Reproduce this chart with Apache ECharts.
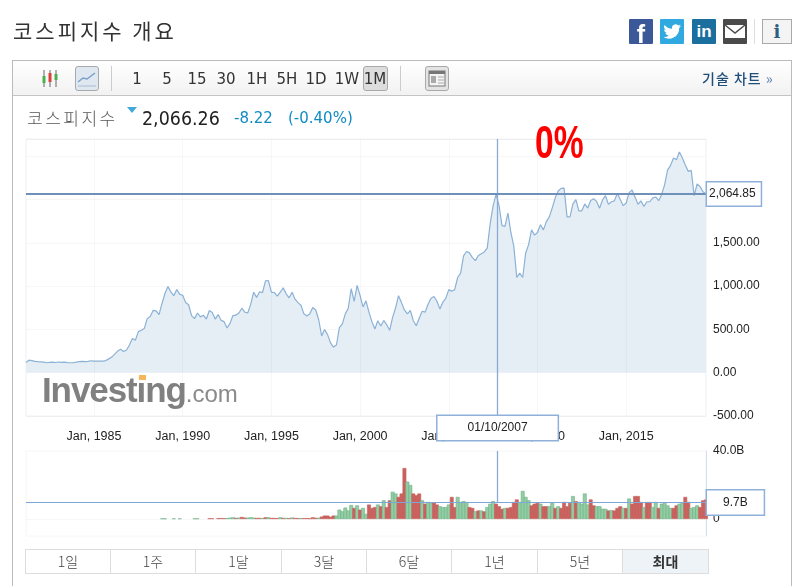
<!DOCTYPE html>
<html>
<head>
<meta charset="utf-8">
<script src="https://cdn.jsdelivr.net/npm/echarts@6/dist/echarts.min.js"></script>
<style>
html,body{margin:0;padding:0;background:#fff;width:805px;height:586px;overflow:hidden;font-family:"Liberation Sans",Arial,sans-serif;}
#main{position:absolute;left:0;top:0;width:805px;height:586px;}
.abs{position:absolute;white-space:nowrap;}
.kr{font-family:"Noto Sans CJK KR",sans-serif;}
.tf{top:69px;font-size:15px;line-height:20px;color:#333;text-align:center;width:30px;font-family:"DejaVu Sans",sans-serif;}
.btn{box-sizing:border-box;border:1px solid #a9a9a9;border-radius:3px;}
.soc{top:19px;width:24px;height:25px;color:#fff;text-align:center;border-radius:1px;}
.tab{top:549px;height:25px;box-sizing:border-box;border:1px solid #ddd;margin-right:-1px;text-align:center;line-height:23px;font-size:14px;color:#444;font-family:"Noto Sans CJK KR",sans-serif;font-weight:300;}
</style>
</head>
<body>
<!-- 바깥 틀, 툴바 -->
<div class="abs" style="left:12px;top:60px;width:778px;height:530px;border:1px solid #bbb;"></div>
<div class="abs" style="left:13px;top:61px;width:778px;height:34px;background:linear-gradient(#fff,#f2f2f2);border-bottom:1px solid #c4c4c4;"></div>

<div id="main"></div>

<div class="abs kr" style="left:13px;top:15px;font-size:21px;line-height:30px;letter-spacing:3px;color:#333;">코스피지수 개요</div>

<!-- 공유 아이콘 -->
<div class="abs soc" style="left:629px;background:#3b5998;font:bold 25px/30px 'Liberation Sans';">f</div>
<div class="abs soc" style="left:660px;background:#2fa9e0;">
<svg width="24" height="25" viewBox="0 0 24 25"><path fill="#fff" d="M21 7c-.7.3-1.4.5-2 .6.7-.5 1.300-1.200 1.600-2-.7.4-1.500.7-2.300.9a3.600 3.600 0 0 0-6.200 3.300C9 9.600 6.400 8.300 4.600 6c-1 1.700-.5 3.800 1.100 4.800-.6 0-1.100-.2-1.600-.4 0 1.700 1.200 3.200 2.900 3.600-.5.100-1.100.1-1.600 0 .5 1.400 1.800 2.400 3.400 2.500A7.300 7.300 0 0 1 3.400 18a10.300 10.300 0 0 0 15.800-9.100c.7-.5 1.300-1.100 1.800-1.900z"/></svg>
</div>
<div class="abs soc" style="left:692px;background:#1a6f9f;font:bold 17px/26px 'Liberation Sans';">in</div>
<div class="abs soc" style="left:723px;background:#4a4a4a;">
<svg width="24" height="25" viewBox="0 0 24 25"><rect x="2" y="6" width="20" height="13" fill="#fff"/><path d="M2 6l10 8 10-8" fill="none" stroke="#4a4a4a" stroke-width="1.500"/></svg>
</div>
<div class="abs" style="left:754px;top:19px;width:1px;height:25px;background:#ddd;"></div>
<div class="abs btn" style="left:762px;top:19px;width:30px;height:25px;background:#f4f4f4;border-radius:0;text-align:center;font:bold 18px/23px 'DejaVu Serif',serif;color:#2f5f80;">i</div>

<!-- 툴바 내용 -->
<svg class="abs" style="left:40px;top:69px;" width="20" height="20">
<path d="M4 1v17M10 1v17M16 1v17" stroke="#666" stroke-width="1"/>
<rect x="2.500" y="7" width="3" height="7" fill="#4caf50"/><rect x="8.500" y="4" width="3" height="9" fill="#d9413a"/><rect x="14.500" y="5" width="3" height="6" fill="#4caf50"/>
</svg>
<div class="abs btn" style="left:75px;top:66px;width:24px;height:25px;background:#dfe8f0;">
<svg width="22" height="23"><path d="M2 15l5-4 4 1 8-6" fill="none" stroke="#7aa0cc" stroke-width="1.500"/><path d="M2 19h18" stroke="#aabbd0"/></svg>
</div>
<div class="abs" style="left:111px;top:66px;width:1px;height:25px;background:#ccc;"></div>
<div class="abs tf" style="left:122px;">1</div>
<div class="abs tf" style="left:152px;">5</div>
<div class="abs tf" style="left:182px;">15</div>
<div class="abs tf" style="left:211px;">30</div>
<div class="abs tf" style="left:242px;">1H</div>
<div class="abs tf" style="left:272px;">5H</div>
<div class="abs tf" style="left:301px;">1D</div>
<div class="abs tf" style="left:332px;">1W</div>
<div class="abs btn" style="left:363px;top:66px;width:25px;height:25px;background:#ddd;"></div>
<div class="abs tf" style="left:360px;">1M</div>
<div class="abs" style="left:400px;top:66px;width:1px;height:25px;background:#ccc;"></div>
<div class="abs btn" style="left:425px;top:66px;width:24px;height:25px;background:#e4e4e4;">
<svg width="22" height="23"><rect x="3" y="4" width="16" height="15" fill="#f4f4f4" stroke="#777"/><rect x="3" y="4" width="16" height="3" fill="#777"/><rect x="5" y="9" width="5" height="7" fill="#aaa"/><path d="M12 10h6M12 13h6M12 16h6" stroke="#aaa"/></svg>
</div>
<div class="abs kr" style="left:702px;top:67px;font-size:14px;line-height:22px;letter-spacing:1px;color:#1f4e79;font-weight:500;">기술 차트 <span style="color:#6d8fb0;">»</span></div>

<!-- 지수 헤더 -->
<div class="abs kr" style="left:27px;top:105px;font-size:17px;line-height:26px;letter-spacing:2.500px;color:#555;font-weight:300;">코스피지수</div>
<svg class="abs" style="left:127px;top:107px;" width="11" height="7"><path d="M0 0h10l-5 6z" fill="#3fa9dc"/></svg>
<div class="abs" style="left:142px;top:105px;font-size:19px;line-height:26px;color:#222;font-family:'DejaVu Sans';transform:scaleX(.92);transform-origin:left;">2,066.26</div>
<div class="abs" style="left:234px;top:106px;font-size:15px;line-height:24px;color:#0f8bc4;font-family:'DejaVu Sans';">-8.22</div>
<div class="abs" style="left:288px;top:106px;font-size:15px;line-height:24px;color:#0f8bc4;font-family:'DejaVu Sans';">(-0.40%)</div>

<div class="abs" style="left:535px;top:117px;font:bold 46px/50px 'Liberation Sans';color:#f00;transform:scaleX(.73);transform-origin:left;">0%</div>

<!-- 워터마크 -->
<div class="abs" style="left:42px;top:368px;font:bold 35px/44px 'Liberation Sans';letter-spacing:-1.100px;color:#808080;">Investing<span style="font-weight:normal;font-size:24px;letter-spacing:0;color:#8a8a8a;">.com</span></div>
<div class="abs" style="left:139px;top:375px;width:7px;height:5px;background:#f5b75a;"></div>

<!-- 기간 탭 -->
<div class="abs tab" style="left:25px;width:86px;">1일</div>
<div class="abs tab" style="left:110px;width:86px;">1주</div>
<div class="abs tab" style="left:195px;width:87px;">1달</div>
<div class="abs tab" style="left:281px;width:86px;">3달</div>
<div class="abs tab" style="left:366px;width:86px;">6달</div>
<div class="abs tab" style="left:451px;width:87px;">1년</div>
<div class="abs tab" style="left:537px;width:86px;">5년</div>
<div class="abs tab" style="left:622px;width:87px;background:#eef3f8;font-weight:700;color:#333;">최대</div>

<script>
// 1981년 3월부터 2개월 간격
var closeValues = [
119,145,140,131,128,126,122,115,120,122,118,124,120,122,117,115,117,122,128,130,
128,131,138,134,135,134,135,140,160,181,215,250,270,245,262,320,395,375,475,490,
510,625,650,720,715,670,800,915,995,935,890,960,905,895,810,785,660,625,690,645,
665,620,718,695,620,672,605,590,516,570,660,665,690,745,700,690,790,930,870,935,
925,1060,1065,930,925,885,930,980,912,865,930,850,810,780,680,655,680,754,725,612,
425,500,440,345,296,320,520,565,680,745,970,825,1010,890,760,830,700,590,505,600,
540,604,555,490,640,747,890,810,725,680,720,600,543,630,710,700,790,860,880,825,
735,815,860,960,940,960,1100,1150,1350,1400,1385,1330,1295,1355,1375,1395,1440,1720,1930,2060,
1930,1700,1690,1845,1620,1459,1100,1150,1100,1380,1480,1650,1590,1620,1710,1650,1745,1800,1905,2020,
2100,2130,2133,1800,1800,1950,2000,1870,1870,1950,1902,1990,2010,1979,1900,1995,2045,1945,1975,1985,
2070,2000,1930,1960,2080,2110,2030,1945,1985,1920,1975,1975,2020,2030,1987,2060,2170,2340,2395,2480,
2460,2550,2480,2400,2326,2337,2045,2180,2150,2090,2065
];
// 거래량(단위 B), closeValues 46번째 시점부터
var volumeStart = 46;
var volumeValues = [
.3,.3,0,0,.3,0,.3,0,0,0,0,.3,.3,0,0,0,.4,.4,0,.5,
.5,.5,.5,.8,1,.6,.8,1.2,.8,.8,1,.8,.6,.6,.5,1,1,.6,.6,.5,
1,.6,.6,.5,.9,.6,.5,.5,.5,.5,.4,1,.7,.7,1.4,2,2,1.3,2,2,
5.5,4.5,6.7,5,8.2,6.5,8,5.5,6.5,3,8.5,6.5,7,8.5,7.5,11,7,11,16,15,
13,15,30,22,20,15,14,15,11,9,10,9.8,9.8,8.5,7.5,7,7,8.5,13,7,
13,10,10.5,10,7,6.5,4.5,5,5,4.5,7,9,10.5,9,7.5,6,6.5,6.5,7,10,
11.5,10,16.5,13,11,8,9,9.5,9,7.5,7.5,7.5,9.5,6.5,7.5,6.5,10,7.5,9.5,13.5,
10.5,10,9,15,8.5,11.5,8,7.5,7.5,6,6,5,5.2,5,6.5,7.5,6.5,6.5,12,9,
13.5,13.5,10,7,10,10,7,10,6.5,9,9.5,8,6.5,6.5,8,9,9.5,13,10,6.5,
7,8,7,11,11.5
];
// u 상승(녹색), d 하락(적색)
var volumeDirs = [
'u','u','u','u','u','u','u','u','u','u','u','u','u','u','u','u','d','d','d','d',
'd','d','u','u','u','d','u','d','d','u','u','u','d','d','u','d','u','d','d','d',
'u','d','u','d','u','d','d','u','d','d','d','d','d','u','d','d','d','d','d','u',
'u','u','u','u','u','d','u','d','u','u','d','d','d','u','d','u','d','d','u','u',
'd','d','d','u','u','d','d','d','u','d','u','u','d','d','u','u','u','u','d','d',
'u','u','u','u','d','d','u','d','u','d','u','u','u','d','d','d','u','d','d','d',
'd','u','u','u','u','d','d','d','u','d','d','u','u','d','u','d','d','d','d','u',
'd','u','u','u','u','d','d','u','u','u','u','d','u','d','d','d','u','d','u','d',
'd','d','d','u','d','d','u','u','d','u','u','u','u','d','d','u','u','d','d','u',
'u','u','d','d','d'
];
var tickYears = [1985,1990,1995,2000,2005,2010,2015];
var priceLabels = [-500,0,500,1000,1500];

// x축은 연도(소수)
function gridYear(i) {
    return 1981 + (2 + i * 2) / 12;
}

var crossYear = 2007 + 9 / 12;
var crossPrice = 2064.85;
var crossVolume = 9.7;

var closeData = [];
for (var i = 0; i < closeValues.length; i++) {
    closeData.push([gridYear(i), closeValues[i]]);
}
var volumeData = [];
for (var j = 0; j < volumeValues.length; j++) {
    if (!volumeValues[j]) continue;
    var up = volumeDirs[j] == 'u';
    volumeData.push({
        value: [gridYear(volumeStart + j), volumeValues[j]],
        itemStyle: {
            color: up ? '#93cda3' : '#c9625e',
            borderColor: up ? '#6fb288' : '#c9625e',
            borderWidth: 0.6
        }
    });
}

var faint = {color: 'rgba(0,0,0,0.03)', width: 1, type: 'solid'};
var yearLines = tickYears.map(function (y) {
    return {xAxis: y, lineStyle: faint, label: {show: false}};
});
var boxLabel = {
    show: true,
    color: '#222',
    fontSize: 12,
    fontFamily: 'Liberation Sans',
    backgroundColor: '#fff',
    borderColor: '#8fb0d9',
    borderWidth: 1.5
};

var myChart = echarts.init(document.getElementById('main'));
var option = {
    animation: false,
    grid: [
        {left: 26, right: 99, top: 139, height: 277, show: true, borderColor: '#eef0f2', borderWidth: 1},
        {left: 26, right: 99, top: 451, height: 85, show: true, borderColor: '#f5f6f7', borderWidth: 1}
    ],
    xAxis: [
        {
            type: 'value',
            gridIndex: 0,
            min: gridYear(0),
            max: gridYear(230),
            axisLine: {show: false},
            axisTick: {show: false},
            splitLine: {show: false},
            axisLabel: {
                customValues: tickYears,
                formatter: function (v) { return 'Jan, ' + v; },
                color: '#222',
                fontSize: 12.5,
                fontFamily: 'Liberation Sans',
                margin: 14
            }
        },
        {
            type: 'value',
            gridIndex: 1,
            min: gridYear(0),
            max: gridYear(230),
            axisLine: {show: false},
            axisTick: {show: false},
            axisLabel: {show: false},
            splitLine: {show: false}
        }
    ],
    yAxis: [
        {
            type: 'value',
            gridIndex: 0,
            position: 'right',
            min: -500,
            max: 2700,
            interval: 500,
            axisLine: {show: false},
            axisTick: {show: false},
            splitLine: {lineStyle: {color: 'rgba(0,0,0,0.03)'}},
            axisLabel: {
                color: '#222',
                fontSize: 12,
                fontFamily: 'Liberation Sans',
                margin: 7,
                padding: [2, 0, 0, 0],
                showMaxLabel: false,
                formatter: function (v) {
                    if (priceLabels.indexOf(v) < 0) return '';
                    return echarts.format.addCommas(v.toFixed(2));
                }
            }
        },
        {
            type: 'value',
            gridIndex: 1,
            position: 'right',
            min: -10,
            max: 40,
            interval: 10,
            axisLine: {show: true, lineStyle: {color: '#d5deea'}},
            axisTick: {show: false},
            splitLine: {show: false},
            axisLabel: {
                color: '#222',
                fontSize: 12,
                fontFamily: 'Liberation Sans',
                margin: 7,
                padding: [2, 0, 0, 0],
                formatter: function (v) {
                    if (v == 0) return '0';
                    if (v == 40) return '40.0B';
                    return '';
                }
            }
        }
    ],
    series: [
        {
            name: '코스피지수',
            type: 'line',
            xAxisIndex: 0,
            yAxisIndex: 0,
            data: closeData,
            showSymbol: false,
            symbol: 'none',
            lineStyle: {color: '#8bb2d6', width: 1.2},
            areaStyle: {color: '#e6eef5', opacity: 1},
            markLine: {
                silent: true,
                symbol: 'none',
                animation: false,
                data: yearLines.concat([
                    {
                        xAxis: crossYear,
                        lineStyle: {color: '#8aaad3', width: 1.3, type: 'solid'},
                        label: Object.assign({}, boxLabel, {
                            position: 'start',
                            distance: 0,
                            align: 'center',
                            verticalAlign: 'top',
                            formatter: '01/10/2007',
                            padding: [6, 30, 6, 30]
                        })
                    },
                    {
                        yAxis: crossPrice,
                        lineStyle: {color: '#6f90b8', width: 2, type: 'solid'},
                        label: Object.assign({}, boxLabel, {
                            position: 'end',
                            distance: 1,
                            align: 'left',
                            verticalAlign: 'middle',
                            formatter: '2,064.85',
                            padding: [6, 5, 5, 2]
                        })
                    }
                ])
            }
        },
        {
            name: '거래량',
            type: 'bar',
            xAxisIndex: 1,
            yAxisIndex: 1,
            data: volumeData,
            barWidth: 3.8,
            markLine: {
                silent: true,
                symbol: 'none',
                animation: false,
                data: [
                    {yAxis: 0, lineStyle: faint, label: {show: false}},
                    {
                        yAxis: crossVolume,
                        lineStyle: {color: '#7fa6d8', width: 1.2, type: 'solid'},
                        label: Object.assign({}, boxLabel, {
                            position: 'end',
                            distance: 1,
                            align: 'left',
                            verticalAlign: 'middle',
                            formatter: '9.7B',
                            padding: [6, 16, 6, 16]
                        })
                    },
                    [
                        {coord: [crossYear, 40], lineStyle: {color: '#8aaad3', width: 1.3, type: 'solid'}, label: {show: false}},
                        {coord: [crossYear, crossVolume]}
                    ]
                ]
            }
        }
    ]
};
myChart.setOption(option);
</script>
</body>
</html>
